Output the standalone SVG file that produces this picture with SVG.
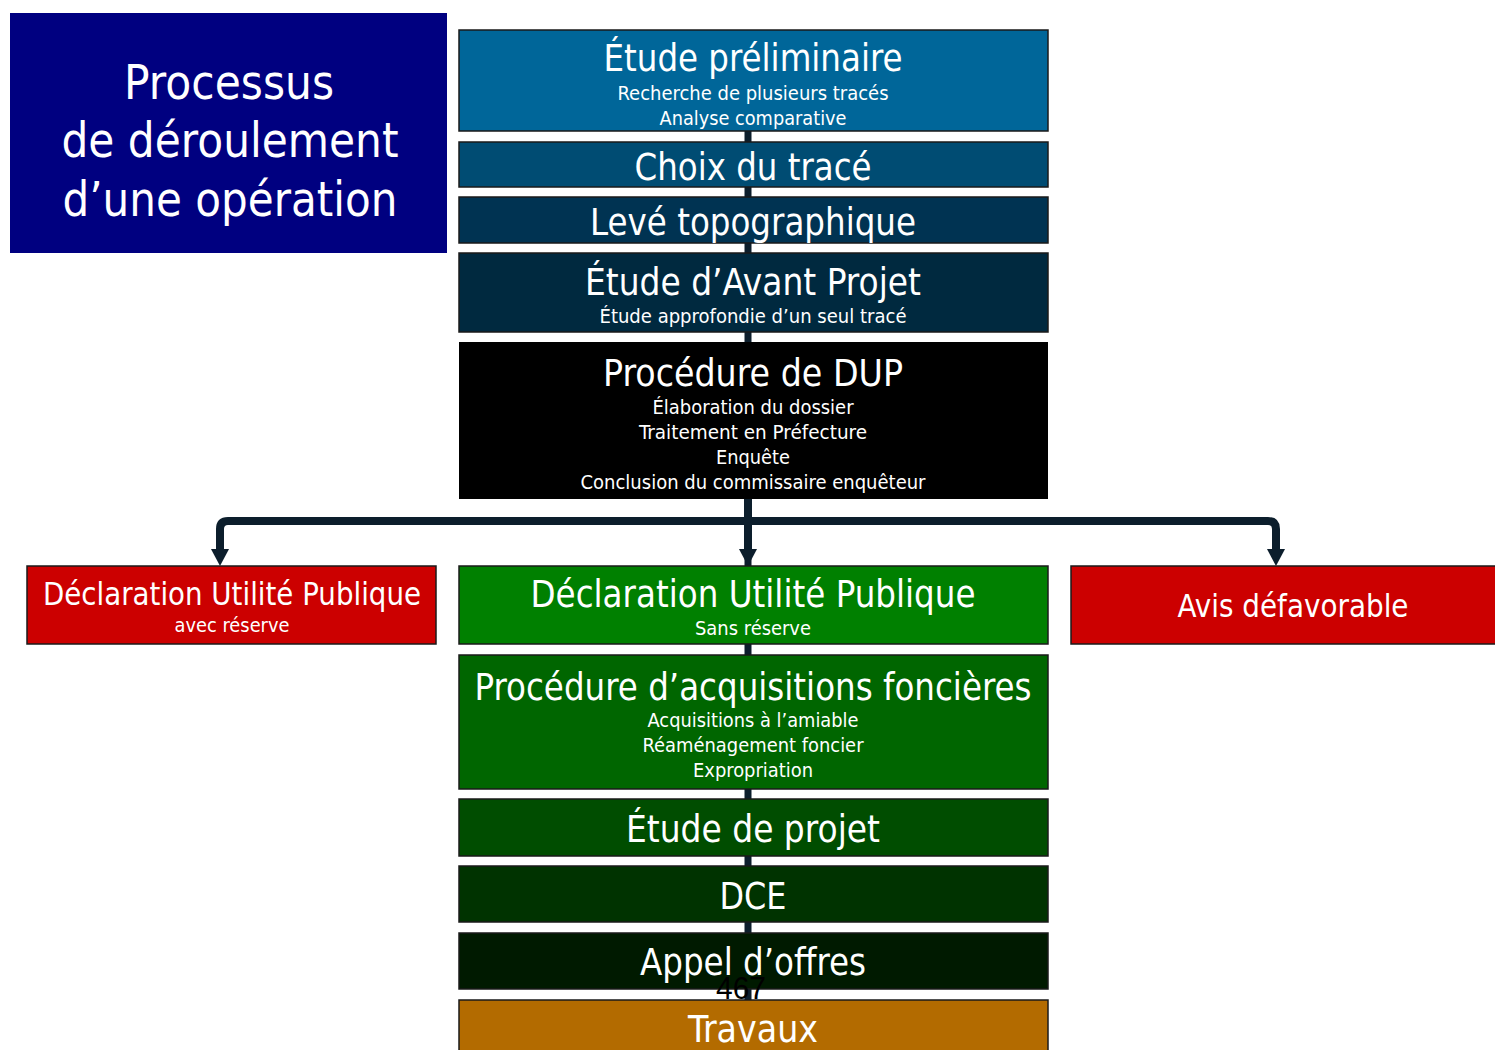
<svg xmlns="http://www.w3.org/2000/svg" width="1495" height="1050" viewBox="0 0 1495 1050">
<style>
.box{stroke:#1a1a1a;stroke-width:1.5}
.t{font-family:"DejaVu Sans Condensed","DejaVu Sans","Liberation Sans",sans-serif;fill:#ffffff;text-anchor:middle}
.big{font-size:37px}
.mid{font-size:32px}
.sm{font-size:19px}
.title{font-family:"DejaVu Sans","Liberation Sans",sans-serif;font-size:48px;fill:#ffffff;text-anchor:middle}
.conn{stroke:#0c1e2c;fill:none;stroke-width:8;stroke-linejoin:round}
</style>
<defs>
<marker id="arr" markerWidth="4" markerHeight="4" refX="2" refY="2" orient="auto" markerUnits="strokeWidth">
<path d="M0,0 L4,2 L0,4 z" fill="#0c1e2c"/>
</marker>
</defs>
<rect width="1495" height="1050" fill="#ffffff"/>
<g id="connectors">
<line x1="748" y1="131" x2="748" y2="1000" stroke="#0c1e2c" stroke-width="7"/>
<path class="conn" d="M748,499 V550"/>
<path class="conn" d="M748,521 H228 Q220,521 220,529 V550"/>
<path class="conn" d="M748,521 H1268 Q1276,521 1276,529 V550"/>
<path d="M739,549 L757,549 L748,566 z" fill="#0c1e2c"/>
<path d="M211,549 L229,549 L220,566 z" fill="#0c1e2c"/>
<path d="M1267,549 L1285,549 L1276,566 z" fill="#0c1e2c"/>
</g>
<g id="title">
<rect x="10" y="13" width="437" height="240" fill="#000080"/>
<text class="title" x="229" y="99" textLength="210" lengthAdjust="spacingAndGlyphs">Processus</text>
<text class="title" x="230" y="157" textLength="337" lengthAdjust="spacingAndGlyphs">de déroulement</text>
<text class="title" x="230" y="216" textLength="335" lengthAdjust="spacingAndGlyphs">d’une opération</text>
</g>
<g id="etude-preliminaire">
<rect class="box" x="459" y="30" width="589" height="101" fill="#006699"/>
<text class="t big" x="753" y="71" textLength="299" lengthAdjust="spacingAndGlyphs">Étude préliminaire</text>
<text class="t sm" x="753" y="100" textLength="271" lengthAdjust="spacingAndGlyphs">Recherche de plusieurs tracés</text>
<text class="t sm" x="753" y="125" textLength="187" lengthAdjust="spacingAndGlyphs">Analyse comparative</text>
</g>
<g id="choix-trace">
<rect class="box" x="459" y="142" width="589" height="45" fill="#004c73"/>
<text class="t big" x="753" y="180" textLength="237" lengthAdjust="spacingAndGlyphs">Choix du tracé</text>
</g>
<g id="leve-topo">
<rect class="box" x="459" y="197" width="589" height="46" fill="#003352"/>
<text class="t big" x="753" y="235" textLength="326" lengthAdjust="spacingAndGlyphs">Levé topographique</text>
</g>
<g id="avant-projet">
<rect class="box" x="459" y="253" width="589" height="79" fill="#00293f"/>
<text class="t big" x="753" y="295" textLength="336" lengthAdjust="spacingAndGlyphs">Étude d’Avant Projet</text>
<text class="t sm" x="753" y="323" textLength="307" lengthAdjust="spacingAndGlyphs">Étude approfondie d’un seul tracé</text>
</g>
<g id="procedure-dup">
<rect x="459" y="342" width="589" height="157" fill="#000000"/>
<text class="t big" x="753" y="386" textLength="300" lengthAdjust="spacingAndGlyphs">Procédure de DUP</text>
<text class="t sm" x="753" y="414" textLength="201" lengthAdjust="spacingAndGlyphs">Élaboration du dossier</text>
<text class="t sm" x="753" y="439" textLength="228" lengthAdjust="spacingAndGlyphs">Traitement en Préfecture</text>
<text class="t sm" x="753" y="464" textLength="74" lengthAdjust="spacingAndGlyphs">Enquête</text>
<text class="t sm" x="753" y="489" textLength="345" lengthAdjust="spacingAndGlyphs">Conclusion du commissaire enquêteur</text>
</g>
<g id="dup-avec-reserve">
<rect class="box" x="27" y="566" width="409" height="78" fill="#cc0000"/>
<text class="t mid" x="232" y="605" textLength="378" lengthAdjust="spacingAndGlyphs">Déclaration Utilité Publique</text>
<text class="t sm" x="232" y="632" textLength="115" lengthAdjust="spacingAndGlyphs">avec réserve</text>
</g>
<g id="dup-sans-reserve">
<rect class="box" x="459" y="566" width="589" height="78" fill="#008000"/>
<text class="t big" x="753" y="607" textLength="445" lengthAdjust="spacingAndGlyphs">Déclaration Utilité Publique</text>
<text class="t sm" x="753" y="635" textLength="116" lengthAdjust="spacingAndGlyphs">Sans réserve</text>
</g>
<g id="avis-defavorable">
<rect class="box" x="1071" y="566" width="430" height="78" fill="#cc0000"/>
<text class="t mid" x="1293" y="617" textLength="231" lengthAdjust="spacingAndGlyphs">Avis défavorable</text>
</g>
<g id="acquisitions">
<rect class="box" x="459" y="655" width="589" height="134" fill="#006600"/>
<text class="t big" x="753" y="700" textLength="557" lengthAdjust="spacingAndGlyphs">Procédure d’acquisitions foncières</text>
<text class="t sm" x="753" y="727" textLength="211" lengthAdjust="spacingAndGlyphs">Acquisitions à l’amiable</text>
<text class="t sm" x="753" y="752" textLength="221" lengthAdjust="spacingAndGlyphs">Réaménagement foncier</text>
<text class="t sm" x="753" y="777" textLength="120" lengthAdjust="spacingAndGlyphs">Expropriation</text>
</g>
<g id="etude-projet">
<rect class="box" x="459" y="799" width="589" height="57" fill="#004d00"/>
<text class="t big" x="753" y="842" textLength="254" lengthAdjust="spacingAndGlyphs">Étude de projet</text>
</g>
<g id="dce">
<rect class="box" x="459" y="866" width="589" height="56" fill="#003300"/>
<text class="t big" x="753" y="909" textLength="67" lengthAdjust="spacingAndGlyphs">DCE</text>
</g>
<g id="appel-offres">
<rect class="box" x="459" y="933" width="589" height="56" fill="#001a00"/>
<text class="t big" x="753" y="975" textLength="226" lengthAdjust="spacingAndGlyphs">Appel d’offres</text>
</g>
<g id="travaux">
<rect class="box" x="459" y="1000" width="589" height="60" fill="#b36b00"/>
<text class="t big" x="753" y="1042" textLength="130" lengthAdjust="spacingAndGlyphs">Travaux</text>
</g>
<text x="741" y="999" font-family="Liberation Sans, Arial, sans-serif" font-size="31" fill="#000000" text-anchor="middle" textLength="50" lengthAdjust="spacingAndGlyphs">467</text>
</svg>
